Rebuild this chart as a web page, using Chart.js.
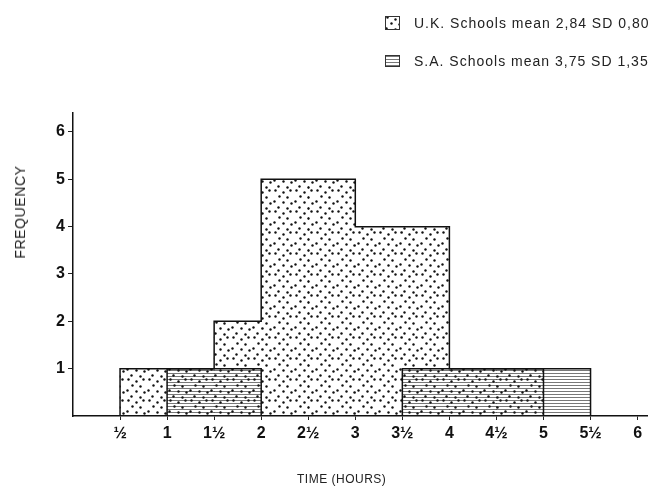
<!DOCTYPE html>
<html>
<head>
<meta charset="utf-8">
<script src="https://cdn.jsdelivr.net/npm/chart.js@4.4.1/dist/chart.umd.min.js"></script>
<style>
  body { margin: 0; background: #fff; }
  #wrap { position: relative; width: 651px; height: 486px; font-family: 'Liberation Sans', Arial, sans-serif; color: #222; }
  #chart { position: absolute; left: 0; top: 0; }
  .key { position: absolute; left: 385px; height: 16px; display: flex; align-items: center; font-size: 14px; letter-spacing: 1px; white-space: nowrap; }
  .key canvas { margin-right: 14px; }
  #xTitle { position: absolute; left: 297px; top: 472px; font-size: 12px; letter-spacing: 0.5px; }
  #yTitle { position: absolute; left: 20px; top: 212px; font-size: 14px; letter-spacing: 0.6px; transform: translate(-50%, -50%) rotate(-90deg); white-space: nowrap; }
</style>
</head>
<body>
<div id="wrap">
  <canvas id="chart" width="651" height="486"></canvas>
  <div class="key" style="top:15px"><canvas id="keyUK" width="15" height="14"></canvas><span>U.K. Schools mean 2,84 SD 0,80</span></div>
  <div class="key" style="top:53px"><canvas id="keySA" width="15" height="12"></canvas><span>S.A. Schools mean 3,75 SD 1,35</span></div>
  <div id="xTitle">TIME (HOURS)</div>
  <div id="yTitle">FREQUENCY</div>
</div>
<script>
// ── data: half-hour bins (left edge), frequencies per bin ──
const binStarts = [0.5, 1, 1.5, 2, 2.5, 3, 3.5, 4, 4.5, 5];
const binWidth = 0.5;
const ukFreq = [1, 1, 2, 5, 5, 4, 4, 1, 1, 0];
const saFreq = [0, 1, 1, 0, 0, 0, 1, 1, 1, 1];
const xTickValues = [0.5, 1, 1.5, 2, 2.5, 3, 3.5, 4, 4.5, 5, 5.5, 6];
const xTickLabels = ['½', '1', '1½', '2', '2½', '3', '3½', '4', '4½', '5', '5½', '6'];
const yTickValues = [1, 2, 3, 4, 5, 6];

// ── fill patterns ──
function dotTile() {
    const c = document.createElement('canvas');
    c.width = 21; c.height = 21;
    const g = c.getContext('2d');
    g.fillStyle = '#111';
    [[2, 1], [10, 3], [17, 1], [6, 7], [14, 8], [1, 12], [10, 13], [18, 14], [5, 18], [14, 19]].forEach(function (p) {
        g.beginPath(); g.arc(p[0] + 0.5, p[1] + 0.5, 1.2, 0, Math.PI * 2); g.fill();
    });
    return c;
}
function lineTile() {
    const c = document.createElement('canvas');
    c.width = 8; c.height = 3;
    const g = c.getContext('2d');
    g.fillStyle = 'rgba(30,30,30,0.6)';
    g.fillRect(0, 1, 8, 1);
    return c;
}
const ctx = document.getElementById('chart').getContext('2d');
const dots = ctx.createPattern(dotTile(), 'repeat');
const lines = ctx.createPattern(lineTile(), 'repeat');

// legend keys
[['keyUK', dotTile()], ['keySA', lineTile()]].forEach(function (k) {
    const el = document.getElementById(k[0]);
    const g = el.getContext('2d');
    g.fillStyle = g.createPattern(k[1], 'repeat');
    g.fillRect(0, 0, el.width, el.height);
    g.strokeStyle = '#333';
    g.lineWidth = 1;
    g.strokeRect(0.5, 0.5, el.width - 1, el.height - 1);
});

function bars(freq) {
    return binStarts.map(function (s, i) { return { x: s + binWidth / 2, y: freq[i] }; })
        .filter(function (p) { return p.y > 0; });
}
// histogram outline as corner points built from the frequencies
function outline(freq) {
    const pts = [];
    let prev = 0;
    binStarts.forEach(function (s, i) {
        if (freq[i] !== prev) { pts.push({ x: s, y: prev }, { x: s, y: freq[i] }); }
        prev = freq[i];
    });
    const end = binStarts[binStarts.length - 1] + binWidth;
    pts.push({ x: end, y: prev }, { x: end, y: 0 });
    return pts;
}

const stroke = { type: 'line', borderColor: '#111', borderWidth: 1.5, pointRadius: 0, tension: 0, fill: false, order: 0 };

new Chart(ctx, {
    type: 'bar',
    data: {
        datasets: [
            { label: 'U.K. Schools', data: bars(ukFreq), backgroundColor: dots, borderWidth: 0, order: 2 },
            { label: 'S.A. Schools', data: bars(saFreq), backgroundColor: lines, borderWidth: 0, order: 1 },
            Object.assign({ data: outline(ukFreq) }, stroke),
            Object.assign({ data: outline(saFreq) }, stroke)
        ]
    },
    options: {
        responsive: false,
        animation: false,
        layout: { padding: { top: 113, right: 4, left: 0, bottom: 0 } },
        datasets: { bar: { grouped: false, barPercentage: 1, categoryPercentage: 1 } },
        plugins: { legend: { display: false }, tooltip: { enabled: false } },
        scales: {
            x: {
                type: 'linear', min: 0, max: 6.1, offset: false,
                afterBuildTicks: function (s) { s.ticks = xTickValues.map(function (v) { return { value: v }; }); },
                afterFit: function (s) { s.height = 70; },
                ticks: {
                    autoSkip: false, maxRotation: 0, padding: 4, color: '#111',
                    font: { family: "'Liberation Sans', Arial, sans-serif", size: 16, weight: 'bold' },
                    callback: function (v, i) { return xTickLabels[i]; }
                },
                grid: { display: true, drawOnChartArea: false, tickLength: 4, color: '#222', offset: false },
                border: { display: true, color: '#111', width: 1.5 }
            },
            y: {
                min: 0, max: 6.4,
                afterBuildTicks: function (s) { s.ticks = yTickValues.map(function (v) { return { value: v }; }); },
                afterFit: function (s) { s.width = 73; },
                ticks: {
                    padding: 3, color: '#111',
                    font: { family: "'Liberation Sans', Arial, sans-serif", size: 16, weight: 'bold' }
                },
                grid: { display: true, drawOnChartArea: false, tickLength: 5, color: '#222' },
                border: { display: true, color: '#111', width: 1.5 }
            }
        }
    }
});
</script>
</body>
</html>
